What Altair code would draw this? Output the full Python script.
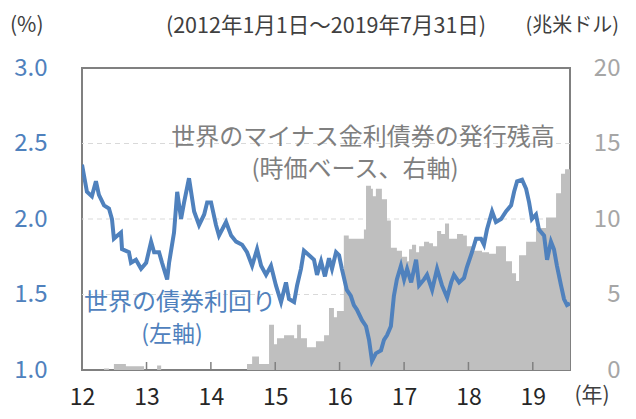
import altair as alt
import pandas as pd

# ---- data ----
yield_dates = [
    "2012-01-01", "2012-01-29", "2012-02-26", "2012-03-20", "2012-04-06", "2012-05-05",
    "2012-06-02", "2012-06-19", "2012-06-30", "2012-08-09", "2012-08-15", "2012-09-23",
    "2012-10-05", "2012-11-02", "2012-12-01", "2012-12-30", "2013-01-27", "2013-02-13",
    "2013-03-13", "2013-03-30", "2013-04-28", "2013-05-09", "2013-06-06", "2013-06-24",
    "2013-07-16", "2013-08-02", "2013-08-30", "2013-09-28", "2013-10-26", "2013-11-24",
    "2013-12-11", "2014-01-02", "2014-01-30", "2014-02-16", "2014-03-28", "2014-04-26",
    "2014-05-24", "2014-06-27", "2014-07-25", "2014-08-23", "2014-09-20", "2014-10-13",
    "2014-11-10", "2014-12-08", "2015-01-05", "2015-02-03", "2015-03-03", "2015-03-20",
    "2015-04-18", "2015-05-05", "2015-05-27", "2015-06-13", "2015-07-12", "2015-08-09",
    "2015-08-26", "2015-09-18", "2015-10-10", "2015-11-02", "2015-11-19", "2015-12-12",
    "2015-12-29", "2016-01-14", "2016-02-11", "2016-03-05", "2016-03-22", "2016-04-08",
    "2016-05-07", "2016-05-30", "2016-06-16", "2016-07-03", "2016-07-25", "2016-08-23",
    "2016-09-09", "2016-09-26", "2016-10-18", "2016-11-04", "2016-11-21", "2016-12-14",
    "2017-01-01", "2017-01-18", "2017-02-10", "2017-03-10", "2017-03-27", "2017-04-24",
    "2017-05-11", "2017-06-09", "2017-07-07", "2017-08-04", "2017-09-02", "2017-09-25",
    "2017-10-11", "2017-11-09", "2017-12-07", "2017-12-23", "2018-01-21", "2018-02-13",
    "2018-03-13", "2018-03-30", "2018-04-16", "2018-05-15", "2018-06-06", "2018-07-05",
    "2018-08-02", "2018-08-31", "2018-09-17", "2018-10-04", "2018-11-01", "2018-11-24",
    "2018-12-11", "2018-12-27", "2019-01-19", "2019-02-05", "2019-03-06", "2019-03-23",
    "2019-04-14", "2019-05-01", "2019-05-18", "2019-06-10", "2019-06-27", "2019-07-14",
    "2019-07-31",
]
yield_values = [
    2.36, 2.18, 2.15, 2.25, 2.16, 2.09,
    2.07, 2.00, 1.87, 1.91, 1.80, 1.78,
    1.71, 1.73, 1.67, 1.71, 1.85, 1.78,
    1.78, 1.71, 1.60, 1.71, 1.91, 2.18,
    2.00, 2.11, 2.27, 2.05, 1.96, 2.03,
    2.11, 2.11, 1.96, 1.89, 1.98, 1.89,
    1.85, 1.83, 1.78, 1.69, 1.80, 1.69,
    1.63, 1.69, 1.56, 1.45, 1.58, 1.47,
    1.45, 1.56, 1.67, 1.79, 1.76, 1.73,
    1.63, 1.72, 1.62, 1.74, 1.67, 1.78,
    1.76, 1.67, 1.53, 1.49, 1.43, 1.40,
    1.33, 1.29, 1.20, 1.06, 1.11, 1.13,
    1.20, 1.23, 1.29, 1.49, 1.60, 1.69,
    1.60, 1.67, 1.58, 1.73, 1.56, 1.60,
    1.63, 1.53, 1.67, 1.56, 1.48, 1.58,
    1.63, 1.58, 1.61, 1.68, 1.78, 1.87,
    1.87, 1.83, 1.93, 2.05, 1.98, 2.00,
    2.05, 2.09, 2.18, 2.25, 2.26, 2.20,
    2.11, 2.00, 2.03, 1.93, 1.89, 1.73,
    1.85, 1.80, 1.69, 1.56, 1.47, 1.43,
    1.44,
]

debt_dates = [
    "2012-01-01", "2012-05-05", "2012-06-02", "2012-06-30", "2012-09-06", "2012-12-18",
    "2013-03-02", "2013-03-25", "2014-07-25", "2014-08-23", "2014-10-01", "2014-11-27",
    "2014-12-25", "2015-01-11", "2015-02-20", "2015-04-18", "2015-05-05", "2015-05-27",
    "2015-06-30", "2015-08-20", "2015-10-05", "2015-11-02", "2015-11-30", "2015-12-17",
    "2016-01-25", "2016-02-22", "2016-05-01", "2016-05-18", "2016-05-30", "2016-06-27",
    "2016-07-08", "2016-07-25", "2016-08-28", "2016-09-26", "2016-10-18", "2016-11-21",
    "2016-12-20", "2017-01-18", "2017-01-29", "2017-02-15", "2017-03-10", "2017-03-27",
    "2017-04-24", "2017-05-23", "2017-06-14", "2017-07-07", "2017-07-30", "2017-08-21",
    "2017-09-13", "2017-10-28", "2017-12-02", "2017-12-23", "2018-02-02", "2018-03-19",
    "2018-04-28", "2018-06-06", "2018-08-02", "2018-09-05", "2018-09-28", "2018-10-15",
    "2018-11-24", "2019-01-19", "2019-03-17", "2019-05-13", "2019-06-10", "2019-07-03",
    "2019-07-31",
]
debt_values = [
    0.0, 0.1, 0.0, 0.4, 0.25, 0.0,
    0.3, 0.0, 0.4, 0.9, 0.4, 3.0,
    1.7, 2.1, 2.3, 2.1, 3.0, 2.1,
    1.5, 1.9, 2.3, 4.1, 3.5, 3.9,
    8.9, 8.7, 8.7, 9.3, 12.2, 12.0,
    11.5, 12.0, 11.3, 9.9, 8.1, 7.9,
    7.5, 7.2, 8.0, 8.3, 7.8, 8.2,
    8.5, 8.4, 8.2, 9.2, 9.0, 9.7,
    8.7, 9.0, 8.9, 8.2, 7.9, 7.8,
    7.7, 8.2, 7.2, 6.4, 5.9, 7.6,
    8.5, 9.4, 10.1, 11.7, 13.0, 13.3,
    13.0,
]

year_ticks = ["2013-01-01", "2014-01-01", "2015-01-01", "2016-01-01",
              "2017-01-01", "2018-01-01", "2019-01-01"]
label_years = [2012, 2013, 2014, 2015, 2016, 2017, 2018, 2019]
grid_levels = [1.5, 2.0, 2.5]
left_ticks = [1.0, 1.5, 2.0, 2.5, 3.0]
right_ticks = [0, 5, 10, 15, 20]

BLUE = "#4F81BD"
AREA_GRAY = "#BFBFBF"
TEXT_GRAY = "#7F7F7F"
FONT = "Noto Sans CJK JP"
W, H = 488, 302

yield_df = pd.DataFrame({"date": yield_dates, "yield": yield_values})
debt_df = pd.DataFrame({"date": debt_dates, "debt": debt_values})
tick_df = pd.DataFrame({"date": year_ticks})
grid_df = pd.DataFrame({"level": grid_levels})

x_scale = alt.Scale(
    type="utc",
    domain=[alt.DateTime(year=2012, month=1, date=1, utc=True),
            alt.DateTime(year=2019, month=7, date=31, utc=True)],
    nice=False,
)
x_axis = alt.Axis(
    format="%y",
    values=[alt.DateTime(year=y, month=1, date=1, utc=True) for y in label_years],
    labelFontSize=23, labelFont=FONT, labelColor="#262626",
    ticks=False, domain=False, grid=False, labelPadding=16,
    labelFlush=False, labelOverlap=False, title=None,
)
x_enc = alt.X("date:T", scale=x_scale, axis=x_axis)

grid = alt.Chart(grid_df).mark_rule(color="#D9D9D9", strokeWidth=1.2, strokeDash=[5, 4]).encode(
    y=alt.Y("level:Q", scale=alt.Scale(domain=[1, 3]), axis=None)
)

area = alt.Chart(debt_df).mark_area(color=AREA_GRAY, interpolate="step-after", clip=True).encode(
    x=x_enc,
    y=alt.Y("debt:Q", scale=alt.Scale(domain=[0, 20]),
            axis=alt.Axis(orient="right", values=right_ticks, labelColor="#A6A6A6",
                          labelFontSize=24, labelFont=FONT, ticks=False, domain=False,
                          grid=False, labelPadding=50, labelAlign="right", title=None)),
)

ticks = alt.Chart(tick_df).mark_rule(color="#808080", strokeWidth=1.5).encode(
    x=x_enc, y=alt.value(H), y2=alt.value(H - 8)
)

line = alt.Chart(yield_df).mark_line(color=BLUE, strokeWidth=4, clip=True).encode(
    x=x_enc,
    y=alt.Y("yield:Q", scale=alt.Scale(domain=[1, 3]),
            axis=alt.Axis(orient="left", values=left_ticks, format=".1f", labelColor=BLUE,
                          labelFontSize=24, labelFont=FONT, ticks=False, domain=False,
                          grid=False, labelPadding=35, title=None)),
)


def label(text, x, y, color, size, align="center"):
    df = pd.DataFrame({"t": [text]})
    return alt.Chart(df).mark_text(
        color=color, fontSize=size, font=FONT, align=align, baseline="middle"
    ).encode(text="t:N", x=alt.value(x), y=alt.value(y))


texts = [
    label("世界のマイナス金利債券の発行残高", 281, 70, TEXT_GRAY, 24),
    label("(時価ベース、右軸)", 273, 102, TEXT_GRAY, 24),
    label("世界の債券利回り", 98, 235, BLUE, 24),
    label("(左軸)", 90, 267, BLUE, 23),
    label("(%)", -72, -42, "#404040", 21, "left"),
    label("(2012年1月1日～2019年7月31日)", 244, -41, "#404040", 21.5),
    label("(兆米ドル)", 537, -42, "#404040", 20, "right"),
    label("(年)", 510, 328, "#404040", 21),
]

chart = alt.layer(grid, area, ticks, line, *texts).resolve_scale(y="independent").properties(
    width=W, height=H,
    autosize=alt.AutoSizeParams(type="none"),
    padding={"left": 74, "top": 60, "right": 58, "bottom": 41},
    background="white",
).configure_view(stroke="#808080", strokeWidth=2)

chart.save("out.html", embed_options={"renderer": "svg", "actions": False})
